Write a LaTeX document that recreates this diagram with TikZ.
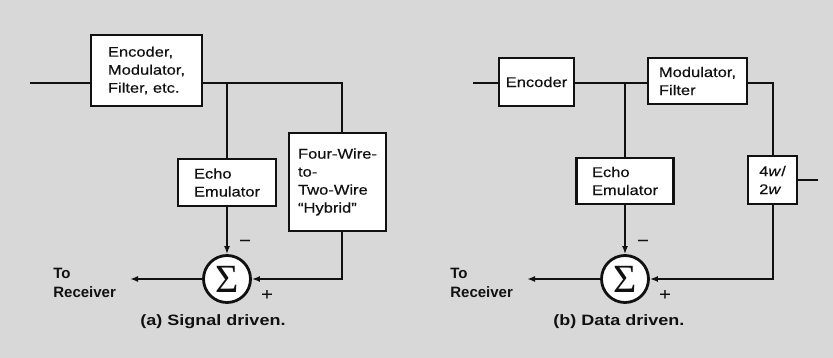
\documentclass[tikz,border=0pt]{standalone}
\usepackage{fontspec}
\setmainfont{Liberation Sans}
\newfontfamily\boxfont[FakeStretch=1.18,FakeBold=0.4]{Liberation Sans}
\newfontfamily\capfont[FakeStretch=1.2]{Liberation Sans}
\newfontfamily\sigfont{Liberation Serif}
\usetikzlibrary{arrows.meta,positioning,calc}
\definecolor{cPaper}{HTML}{D8D8D8}
\definecolor{cInk}{HTML}{111111}
\tikzset{
  every picture/.style={line width=2.2pt},
  blk/.style={draw=cInk, fill=white, line width=2.8pt, align=left, inner sep=0pt,
              font=\boxfont\fontsize{14}{18}\selectfont, text=cInk},
  summer/.style={circle, draw=cInk, fill=white, line width=2.8pt, minimum size=47pt,
                 inner sep=0pt, font=\sigfont\fontsize{40}{40}\selectfont, text=cInk},
  wire/.style={draw=cInk, line width=2.2pt},
  feed/.style={wire, -{Latex[length=8pt,width=6pt]}},
  lbl/.style={font=\bfseries\fontsize{15}{19}\selectfont, align=left, inner sep=0pt, text=cInk},
  sgn/.style={font=\boxfont\fontsize{17}{17}\selectfont, inner sep=0pt, text=cInk},
  captxt/.style={font=\capfont\bfseries\fontsize{15}{15}\selectfont, inner sep=0pt, text=cInk},
}

\begin{document}
\begin{tikzpicture}[x=1pt,y=-1pt]
\fill[cPaper] (0,0) rectangle (833,358);
\useasboundingbox (0,0) rectangle (833,358);

\def\yW{83}   % transmit wire
\def\yS{279}  % summer row

% ---------------------------------------------------------------- (a) signal driven
\node[blk, minimum width=111pt, minimum height=71pt] (encA) at (146.5,70.5) {Encoder,\\Modulator,\\Filter, etc.};
\node[blk, minimum width=98pt, minimum height=47pt] (echoA) at (227,182.5) {Echo\\Emulator};
\node[blk, minimum width=97pt, minimum height=98pt] (hybA) at (337.5,182) {Four-Wire-\\to-\\Two-Wire\\“Hybrid”};
\node[summer] (sumA) at (227,\yS) {Σ};

\coordinate (inA) at (30,\yW);
\coordinate (tapA) at (227,\yW);
\coordinate (cnrA) at (342,\yW);
\coordinate (outA) at (130,\yS);

\draw[wire] (inA) -- (inA -| encA.west);
\draw[wire] (tapA -| encA.east) -- (cnrA) -- (cnrA |- hybA.north);
\draw[wire] (tapA) -- (echoA.north);
\draw[feed] (echoA.south) -- (sumA.north);
\draw[feed] (cnrA |- hybA.south) -- (cnrA |- sumA) -- (sumA.east);
\draw[feed] (sumA.west) -- (outA);

\node[lbl, left=13pt of outA, yshift=-4pt] (rxA) {To\\Receiver};
\node[sgn] (mA) at ($(sumA)+(18,-36)$) {−};
\node[sgn] (pA) at ($(sumA)+(40,16)$) {+};
\node[captxt] (capA) at (213,322) {(a) Signal driven.};

% ---------------------------------------------------------------- (b) data driven
\node[blk, minimum width=75pt, minimum height=48pt] (encB) at (536.5,82) {Encoder};
\node[blk, minimum width=99pt, minimum height=46pt] (modB) at (697.5,81) {Modulator,\\Filter};
\node[blk, minimum width=97pt, minimum height=46pt] (echoB) at (625,181) {Echo\\Emulator};
\node[blk, minimum width=49pt, minimum height=48pt] (hybB) at (772.5,180) {4\textit{w}/\\2\textit{w}};
\node[summer] (sumB) at (625,\yS) {Σ};

\coordinate (inB) at (473,\yW);
\coordinate (tapB) at (625,\yW);
\coordinate (cnrB) at (773,\yW);
\coordinate (outB) at (527,\yS);
\coordinate (stubB) at (818,180);

\draw[wire] (inB) -- (inB -| encB.west);
\draw[wire] (tapB -| encB.east) -- (tapB -| modB.west);
\draw[wire] (tapB) -- (echoB.north);
\draw[wire] (cnrB -| modB.east) -- (cnrB) -- (cnrB |- hybB.north);
\draw[wire] (hybB.east) -- (stubB);
\draw[feed] (echoB.south) -- (sumB.north);
\draw[feed] (cnrB |- hybB.south) -- (cnrB |- sumB) -- (sumB.east);
\draw[feed] (sumB.west) -- (outB);

\node[lbl, left=13pt of outB, yshift=-4pt] (rxB) {To\\Receiver};
\node[sgn] (mB) at ($(sumB)+(18,-36)$) {−};
\node[sgn] (pB) at ($(sumB)+(40,16)$) {+};
\node[captxt] (capB) at (619,322) {(b) Data driven.};

\end{tikzpicture}
\end{document}
